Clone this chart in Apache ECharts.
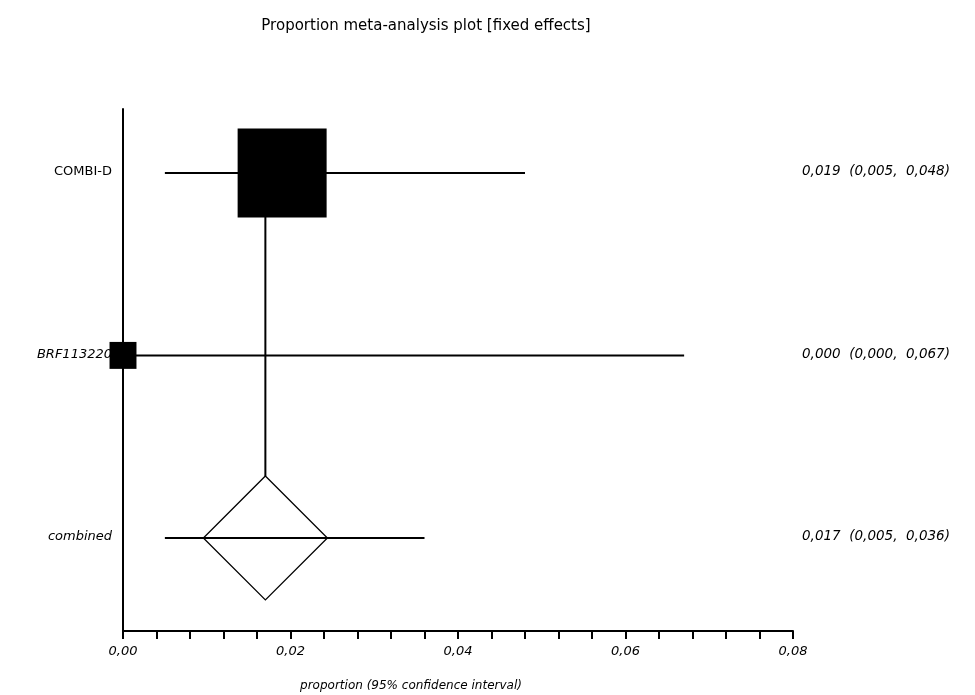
<!DOCTYPE html>
<html>
<head>
<meta charset="utf-8">
<script src="https://cdn.jsdelivr.net/npm/echarts@6/dist/echarts.min.js"></script>
<style>html,body{margin:0;padding:0;background:#fff}#c{width:975px;height:695px}</style>
</head>
<body>
<div id="c"></div>
<script>
// ---- data ----
const studies = ['COMBI-D', 'BRF113220', 'combined'];
const estimates = [0.019, 0.000, 0.017];
const lowerCI = [0.005, 0.000, 0.005];
const upperCI = [0.048, 0.067, 0.036];
const studyWeights = [0.916, 0.084];
const xTickLabels = [0.00, 0.02, 0.04, 0.06, 0.08];
const titleText = 'Proportion meta-analysis plot [fixed effects]';
const xAxisTitle = 'proportion (95% confidence interval)';

// ---- style ----
const FONT = 'DejaVu Sans';
const italicLabel = [false, true, true];
const MAX_BOX = 89;
const DIAMOND_HALF = 62;
const GRID = {left: 123, right: 182, top: 109, bottom: 64};

function fmt(v, d) { return v.toFixed(d).replace('.', ','); }
const rightTexts = studies.map((_, i) =>
  fmt(estimates[i], 3) + '  (' + fmt(lowerCI[i], 3) + ',  ' + fmt(upperCI[i], 3) + ')');

const chart = echarts.init(document.getElementById('c'), null, {renderer: 'canvas'});
const combinedIdx = studies.length - 1;
const wMax = Math.max.apply(null, studyWeights);

const option = {
  animation: false,
  backgroundColor: '#fff',
  grid: GRID,
  xAxis: {
    type: 'value', min: 0, max: 0.08, interval: 0.004,
    axisLine: {show: true, onZero: false, lineStyle: {color: '#000', width: 2}},
    axisTick: {show: true, length: 8, lineStyle: {color: '#000', width: 2}},
    splitLine: {show: false},
    axisLabel: {
      margin: 14, color: '#000', fontFamily: FONT, fontSize: 13, fontStyle: 'italic',
      formatter: function (v) {
        for (const t of xTickLabels) { if (Math.abs(v - t) < 1e-9) return fmt(t, 2); }
        return '';
      }
    }
  },
  yAxis: {
    type: 'value', min: -0.35, max: 2.51, inverse: true,
    axisLine: {show: true, onZero: false, lineStyle: {color: '#000', width: 2}},
    axisTick: {show: false}, axisLabel: {show: false}, splitLine: {show: false}
  },
  graphic: [
    {type: 'text', x: 426, y: 26,
     style: {text: titleText, align: 'center', verticalAlign: 'middle', fill: '#000',
             font: '15px "' + FONT + '"'}},
    {type: 'text', x: 411, y: 686,
     style: {text: xAxisTitle, align: 'center', verticalAlign: 'middle', fill: '#000',
             font: 'italic 12px "' + FONT + '"'}}
  ],
  series: [
    { // confidence interval lines
      type: 'custom', silent: true,
      data: studies.map((_, i) => [lowerCI[i], upperCI[i], i]),
      renderItem: function (params, api) {
        const a = api.coord([api.value(0), api.value(2)]);
        const b = api.coord([api.value(1), api.value(2)]);
        return {type: 'line', shape: {x1: a[0], y1: a[1], x2: b[0], y2: b[1]},
          style: {stroke: '#000', lineWidth: 2}};
      }
    },
    { // vertical pooled line
      type: 'custom', silent: true,
      data: [[estimates[combinedIdx], 0, combinedIdx]],
      renderItem: function (params, api) {
        const a = api.coord([api.value(0), api.value(1)]);
        const b = api.coord([api.value(0), api.value(2)]);
        return {type: 'line', shape: {x1: a[0], y1: a[1], x2: b[0], y2: b[1] - DIAMOND_HALF},
          style: {stroke: '#000', lineWidth: 2}};
      }
    },
    { // study boxes
      type: 'custom', silent: true,
      data: studyWeights.map((w, i) => [estimates[i], i, w]),
      renderItem: function (params, api) {
        const c = api.coord([api.value(0), api.value(1)]);
        const s = MAX_BOX * Math.sqrt(api.value(2) / wMax);
        return {type: 'rect', shape: {x: c[0] - s / 2, y: c[1] - s / 2, width: s, height: s},
          style: {fill: '#000'}};
      }
    },
    { // pooled diamond
      type: 'custom', silent: true,
      data: [[estimates[combinedIdx], combinedIdx]],
      renderItem: function (params, api) {
        const c = api.coord([api.value(0), api.value(1)]);
        const h = DIAMOND_HALF;
        return {type: 'polygon',
          shape: {points: [[c[0], c[1] - h], [c[0] + h, c[1]], [c[0], c[1] + h], [c[0] - h, c[1]]]},
          style: {fill: 'none', stroke: '#000', lineWidth: 1.3}};
      }
    },
    { // labels left and right
      type: 'custom', silent: true,
      data: studies.map((_, i) => [0, i]),
      renderItem: function (params, api) {
        const i = params.dataIndex;
        const c = api.coord([0, api.value(1)]);
        const rightX = params.coordSys.x + params.coordSys.width + 9;
        return {type: 'group', children: [
          {type: 'text', style: {text: studies[i], x: c[0] - 11, y: c[1] - 1,
            align: 'right', verticalAlign: 'middle', fill: '#000',
            font: (italicLabel[i] ? 'italic ' : '') + '13px "' + FONT + '"'}},
          {type: 'text', style: {text: rightTexts[i], x: rightX, y: c[1] - 1,
            align: 'left', verticalAlign: 'middle', fill: '#000',
            font: 'italic 13.5px "' + FONT + '"'}}
        ]};
      }
    }
  ]
};
chart.setOption(option);
</script>
</body>
</html>
